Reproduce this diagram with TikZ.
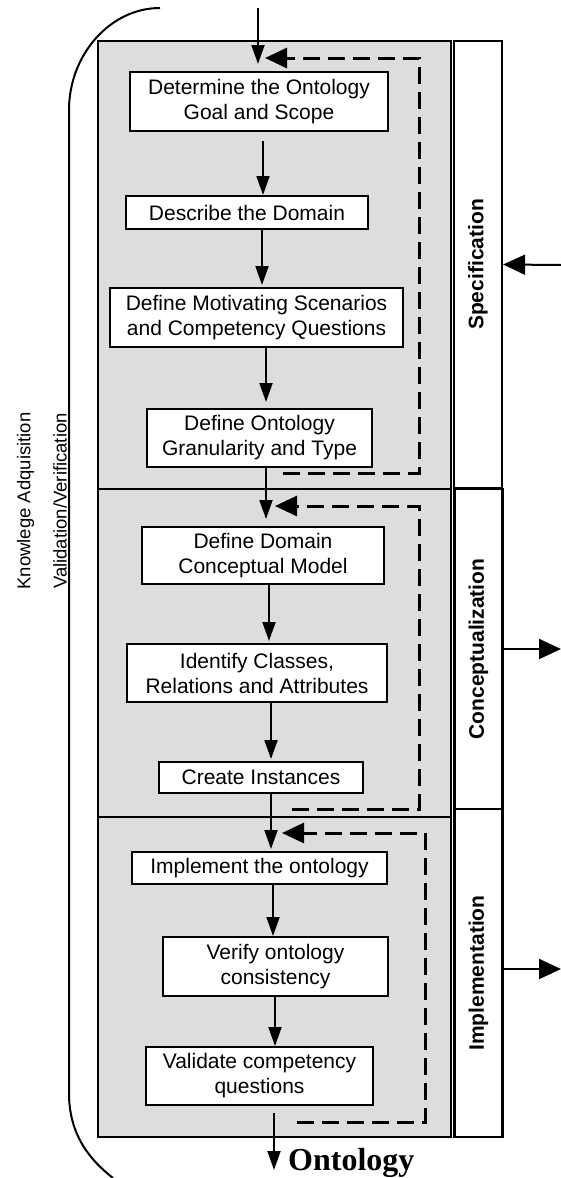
\documentclass[tikz,border=0pt]{standalone}
\usepackage{fontspec}
\setmainfont{Liberation Sans}
\newfontfamily\ontofont{Liberation Serif}
\usetikzlibrary{arrows.meta}
\definecolor{secgray}{RGB}{221,221,221}
\begin{document}
\begin{tikzpicture}[x=1pt,y=-1pt,
  section/.style={draw, line width=2.2pt, fill=secgray, minimum width=353pt, inner sep=0pt},
  stepbox/.style={draw, line width=2pt, fill=white, align=center, inner sep=0pt, font=\fontsize{21}{25}\selectfont},
  phase/.style={draw, line width=2.2pt, fill=white, rotate=90, minimum height=48pt, inner sep=0pt, font=\fontsize{21}{25}\selectfont\bfseries},
  sidetext/.style={rotate=90, inner sep=0pt, font=\fontsize{18.5}{22}\selectfont},
  arr/.style={line width=1.9pt, -{Triangle[length=19pt,width=13pt]}},
  bigarr/.style={line width=2pt, -{Triangle[length=22pt,width=20pt]}},
  fb/.style={line width=3pt, dash pattern=on 17pt off 8pt, -{Triangle[length=22pt,width=20pt]}},
]
\useasboundingbox (0,0) rectangle (561,1178);

% sections
\node[section, minimum height=448pt] (s1) at (274.5,265) {};
\node[section, minimum height=328pt] (s2) at (274.5,653) {};
\node[section, minimum height=320pt] (s3) at (274.5,977) {};

% phase labels
\node[phase, minimum width=447pt] (p1) at (478,264.5) {Specification};
\node[phase, minimum width=320pt] (p2) at (478.5,649) {Conceptualization};
\node[phase, minimum width=328pt] (p3) at (478.5,973) {Implementation};

% steps
\node[stepbox, minimum width=258pt, minimum height=59pt] (b1) at (259,101.5) {Determine the Ontology\\Goal and Scope};
\node[stepbox, minimum width=242pt, minimum height=33pt] (b2) at (247,212.5) {Describe the Domain};
\node[stepbox, minimum width=293pt, minimum height=59pt] (b3) at (256.5,317.5) {Define Motivating Scenarios\\and Competency Questions};
\node[stepbox, minimum width=225pt, minimum height=58pt] (b4) at (259.5,438) {Define Ontology\\Granularity and Type};
\node[stepbox, minimum width=242pt, minimum height=57pt] (b5) at (263,555.5) {Define Domain\\Conceptual Model};
\node[stepbox, minimum width=260pt, minimum height=58pt] (b6) at (257,673) {Identify Classes,\\Relations and Attributes};
\node[stepbox, minimum width=204pt, minimum height=31pt] (b7) at (261,777.5) {Create Instances};
\node[stepbox, minimum width=255pt, minimum height=32pt] (b8) at (259.5,868) {Implement the ontology};
\node[stepbox, minimum width=225pt, minimum height=59pt] (b9) at (275.5,966.5) {Verify ontology\\consistency};
\node[stepbox, minimum width=227pt, minimum height=58pt] (b10) at (259.5,1076) {Validate competency\\questions};

% left bracket and labels
\coordinate (brt) at (160,8);
\coordinate (brb) at (113,1178);
\draw[line width=2pt] (brt) .. controls (110,8) and (69,55) .. (69,110) -- (69,1093) .. controls (69,1135) and (90,1160) .. (brb);
\node[sidetext] (ka) at (25.5,501) {Knowlege Adquisition};
\node[sidetext] (vv) at (60,501) {Validation/Verification};

% output
\node[anchor=base west, inner sep=0pt, font=\ontofont\bfseries\fontsize{32}{36}\selectfont] (onto) at (288,1170) {Ontology};

% main flow
\coordinate (topin) at (258,8);
\draw[arr, shorten >=7pt] (topin) -- (b1.north -| 258,0);
\draw[arr, shorten <=9pt] (b1.south -| 263,0) -- (b2.north -| 263,0);
\draw[arr, shorten >=2pt] (b2.south -| 262,0) -- (b3.north -| 262,0);
\draw[arr, shorten >=6pt] (b3.south -| 266,0) -- (b4.north -| 266,0);
\draw[arr, shorten >=7pt] (b4.south -| 266,0) -- (b5.north -| 266,0);
\draw[arr, shorten >=2pt] (b5.south -| 269,0) -- (b6.north -| 269,0);
\draw[arr, shorten >=2pt] (b6.south -| 271,0) -- (b7.north -| 271,0);
\draw[arr, shorten >=2pt] (b7.south -| 271,0) -- (b8.north -| 271,0);
\draw[arr] (b8.south -| 273,0) -- (b9.north -| 273,0);
\draw[arr] (b9.south -| 275,0) -- (b10.north -| 275,0);
\draw[arr, shorten <=7pt] (b10.south -| 274,0) -- (onto.base west -| 274,0);

% feedback loops
\coordinate (f1a) at (283,473); \coordinate (f1b) at (419,58); \coordinate (f1e) at (265,58);
\draw[fb] (f1a) -| (f1b) -- (f1e);
\coordinate (f2a) at (292,809); \coordinate (f2b) at (419,506); \coordinate (f2e) at (275,506);
\draw[fb] (f2a) -| (f2b) -- (f2e);
\coordinate (f3a) at (297,1122); \coordinate (f3b) at (425,833); \coordinate (f3e) at (282,833);
\draw[fb] (f3a) -| (f3b) -- (f3e);

% side arrows
\coordinate (spin) at (561,265);
\draw[bigarr] (spin) -- (p1.south);
\coordinate (coout) at (561,649);
\draw[bigarr] (p2.south) -- (coout);
\coordinate (imout) at (561,969);
\draw[bigarr] (p3.south |- imout) -- (imout);
\end{tikzpicture}
\end{document}
